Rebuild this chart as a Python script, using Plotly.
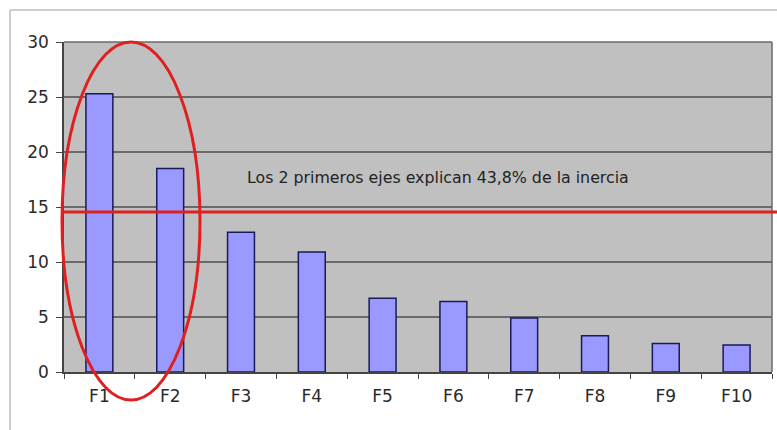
import plotly.graph_objects as go

categories = ["F1", "F2", "F3", "F4", "F5", "F6", "F7", "F8", "F9", "F10"]
values = [25.3, 18.5, 12.7, 10.9, 6.7, 6.4, 4.9, 3.3, 2.6, 2.45]
y_ticks = [0, 5, 10, 15, 20, 25, 30]
threshold = 14.55
note = "Los 2 primeros ejes explican 43,8% de la inercia"
YMAX = 30

fig = go.Figure(go.Bar(
    x=categories, y=values,
    marker=dict(color="#9999ff", line=dict(color="#1a1a5a", width=1.5)),
    width=0.38,
))

fig.update_layout(
    width=777, height=430,
    margin=dict(l=64, r=5, t=42, b=58),
    paper_bgcolor="white",
    plot_bgcolor="#c0c0c0",
    showlegend=False,
    font=dict(family="DejaVu Sans, Liberation Sans, Arial, sans-serif", size=17, color="#2a2a2a"),
    xaxis=dict(
        type="category", tickson="boundaries", ticks="outside", ticklen=5,
        tickcolor="#444444", showline=True, linecolor="#444444", linewidth=1.5,
        showgrid=False, mirror=False, tickfont=dict(size=17),
        range=[-0.5, 9.5], ticklabelstandoff=8,
    ),
    yaxis=dict(
        range=[0, YMAX], tickvals=y_ticks, ticks="outside", ticklen=6,
        tickcolor="#444444", showline=True, linecolor="#444444", linewidth=1.5,
        gridcolor="#6a6a6a", gridwidth=1.5, zeroline=False,
        tickfont=dict(size=17), ticklabelstandoff=4,
    ),
    shapes=[
        # plot-area border (top/right)
        dict(type="line", xref="x domain", yref="y domain", x0=0, x1=1, y0=1, y1=1,
             line=dict(color="#6a6a6a", width=1.5)),
        dict(type="line", xref="x domain", yref="y domain", x0=1, x1=1, y0=0, y1=1,
             line=dict(color="#6a6a6a", width=1.5)),
        # outer frame
        dict(type="line", xref="paper", yref="paper", x0=-54/708, x1=1.02, y0=1 + 32/330, y1=1 + 32/330,
             line=dict(color="#bdbdbd", width=1.5)),
        dict(type="line", xref="paper", yref="paper", x0=-54/708, x1=-54/708, y0=-0.2, y1=1 + 32/330,
             line=dict(color="#bdbdbd", width=1.5)),
        # threshold line
        dict(type="line", xref="x domain", yref="y domain", x0=-0.003, x1=1.02,
             y0=threshold / YMAX, y1=threshold / YMAX,
             line=dict(color="#e02020", width=3)),
        # ellipse around F1, F2
        dict(type="circle", xref="x domain", yref="y domain",
             x0=-2 / 708, x1=136 / 708, y0=-28 / 330, y1=1.0,
             line=dict(color="#e02020", width=3)),
    ],
    annotations=[
        dict(text=note, xref="x domain", yref="y", x=0.528, y=17.7,
             showarrow=False, font=dict(size=15.8, color="#222222")),
    ],
)

fig.write_html("out.html", config={"displayModeBar": False},
               post_script="document.body.style.margin='0';")
